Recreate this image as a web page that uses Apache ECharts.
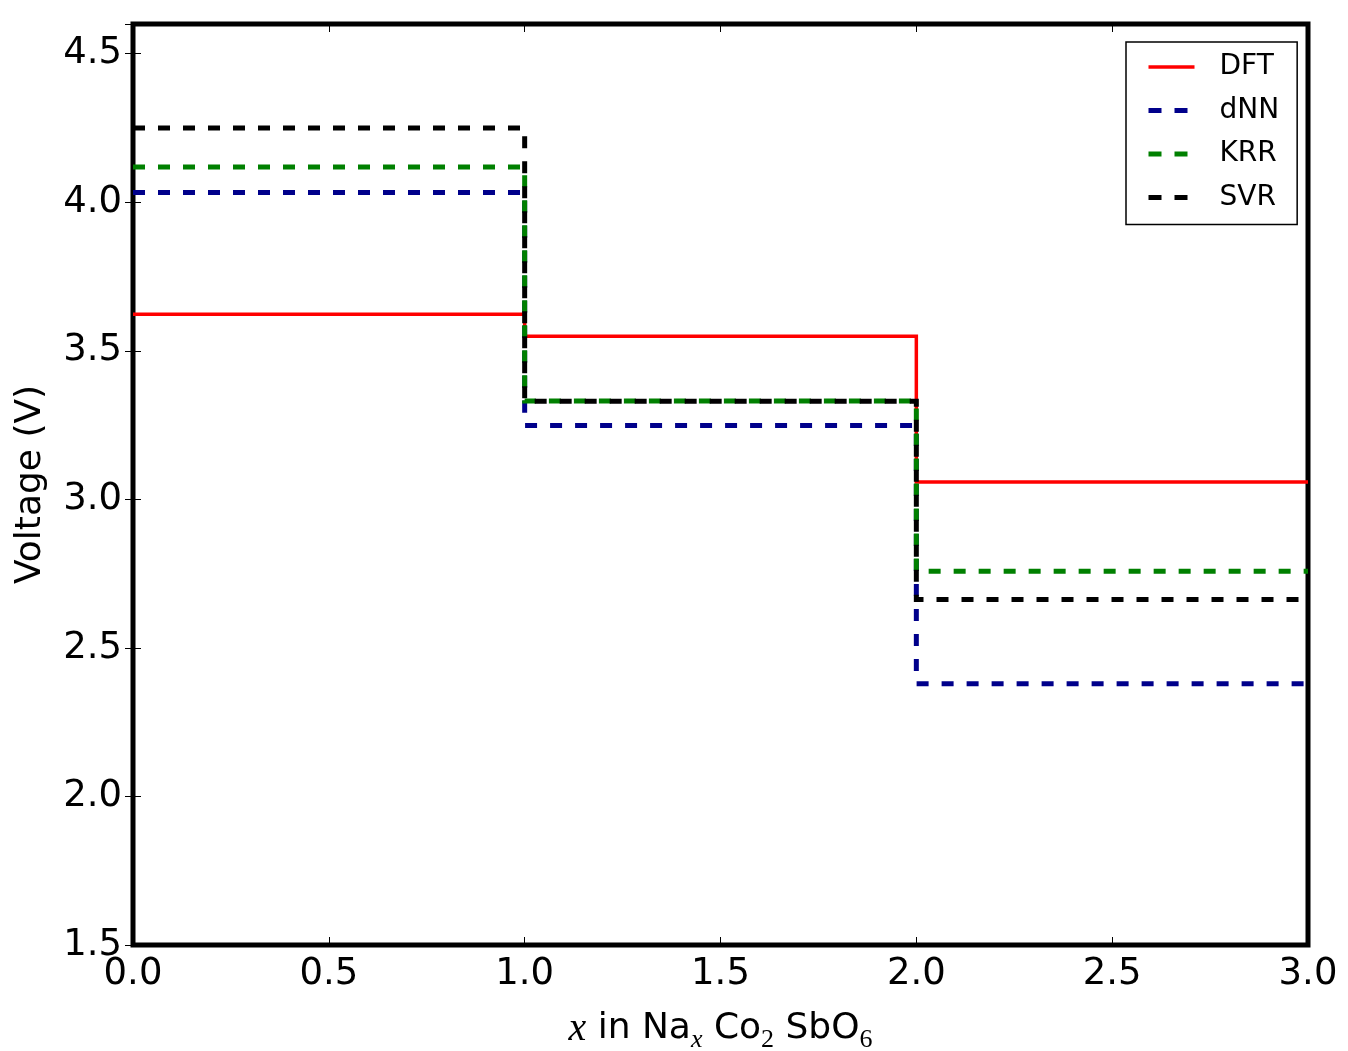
<!DOCTYPE html>
<html>
<head>
<meta charset="utf-8">
<script src="https://cdn.jsdelivr.net/npm/echarts@6/dist/echarts.min.js"></script>
<style>
html,body{margin:0;padding:0;background:#fff;}
#chart{width:1348px;height:1051px;}
</style>
</head>
<body>
<div id="chart"></div>
<script>
// Step edges along x (Na content) and the voltage of each step
const xEdges = [0, 1, 2, 3];
const seriesNames = ['DFT', 'dNN', 'KRR', 'SVR'];
const dftVoltage = [3.623, 3.549, 3.058];
const dnnVoltage = [4.033, 3.249, 2.379];
const krrVoltage = [4.119, 3.331, 2.758];
const svrVoltage = [4.250, 3.330, 2.663];
const xTicks = [0.0, 0.5, 1.0, 1.5, 2.0, 2.5, 3.0];
const yTicks = [1.5, 2.0, 2.5, 3.0, 3.5, 4.0, 4.5];

function stepData(v) {
  const d = [];
  for (let i = 0; i < v.length; i++) d.push([xEdges[i], v[i]]);
  d.push([xEdges[xEdges.length - 1], v[v.length - 1]]);
  return d;
}

const FONT = 'DejaVu Sans';
const chart = echarts.init(document.getElementById('chart'), null, {renderer: 'canvas'});

const seriesColors = ['#ff0000', '#00008b', '#008000', '#000000'];
const seriesWidths = [3.5, 5, 5, 5];
const seriesDashed = [false, true, true, true];

const mkSeries = (name, vals, i) => ({
  name: name,
  type: 'line',
  step: 'end',
  data: stepData(vals),
  symbol: 'none',
  legendIcon: 'none',
  silent: true,
  animation: false,
  lineStyle: {color: seriesColors[i], width: seriesWidths[i], type: seriesDashed[i] ? [12, 13] : 'solid', cap: 'butt', join: 'miter'},
  itemStyle: {color: seriesColors[i]}
});

const hiddenLabel = {show: false};
const tickStyle = {show: true, inside: true, length: 8, lineStyle: {color: '#000', width: 1}};

chart.setOption({
  backgroundColor: '#fff',
  animation: false,
  grid: {left: 133, right: 40, top: 24, bottom: 106, outerBoundsMode: 'none', containLabel: false,
         show: true, borderColor: '#000', borderWidth: 5, backgroundColor: 'transparent'},
  legend: {
    orient: 'vertical',
    left: 1126, top: 42,
    padding: [10, 18, 12, 20],
    itemGap: 13.5,
    itemWidth: 46, itemHeight: 14,
    itemTextGap: 28,
    itemStyle: {opacity: 0, borderWidth: 0},
    borderColor: '#000', borderWidth: 1.5, borderRadius: 0,
    backgroundColor: '#fff',
    textStyle: {fontFamily: FONT, fontSize: 28, color: '#000', lineHeight: 30, padding: [0, 0, 0, 20]},
    data: seriesNames.map((n, i) => ({
      name: n,
      lineStyle: {width: seriesWidths[i], color: seriesColors[i], type: seriesDashed[i] ? [13, 13] : 'solid', cap: 'butt'}
    }))
  },
  xAxis: [{
    type: 'value', min: xTicks[0], max: xTicks[xTicks.length - 1], interval: 0.5,
    position: 'bottom',
    axisLine: {show: false},
    axisTick: tickStyle,
    splitLine: {show: false},
    axisLabel: {fontFamily: FONT, fontSize: 37, color: '#000', margin: 11, formatter: v => v.toFixed(1)},
    nameLocation: 'middle', nameGap: 64,
    name: '{i|x}{n| in Na}{s|x}{n| Co}{d|2}{n| SbO}{d|6}',
    nameTextStyle: {
      rich: {
        i: {fontFamily: 'Liberation Serif', fontStyle: 'italic', fontSize: 40, color: '#000', lineHeight: 40, verticalAlign: 'middle'},
        n: {fontFamily: FONT, fontSize: 36, color: '#000', lineHeight: 40, verticalAlign: 'middle'},
        s: {fontFamily: 'Liberation Serif', fontStyle: 'italic', fontSize: 26, color: '#000', lineHeight: 26, padding: [22, 0, 0, 0], verticalAlign: 'middle'},
        d: {fontFamily: 'Liberation Serif', fontSize: 26, color: '#000', lineHeight: 26, padding: [22, 0, 0, 0], verticalAlign: 'middle'}
      }
    }
  }, {
    type: 'value', min: xTicks[0], max: xTicks[xTicks.length - 1], interval: 0.5,
    position: 'top',
    axisLine: {show: false}, axisTick: tickStyle, axisLabel: hiddenLabel, splitLine: {show: false}
  }],
  yAxis: [{
    type: 'value', min: yTicks[0], max: 4.6, interval: 0.5,
    position: 'left',
    axisLine: {show: false},
    axisTick: tickStyle,
    splitLine: {show: false},
    axisLabel: {fontFamily: FONT, fontSize: 37, color: '#000', margin: 11, showMaxLabel: false, formatter: v => v.toFixed(1)},
    name: 'Voltage (V)',
    nameLocation: 'middle', nameGap: 84, nameRotate: 90,
    nameTextStyle: {fontFamily: FONT, fontSize: 36, color: '#000'}
  }, {
    type: 'value', min: yTicks[0], max: 4.6, interval: 0.5,
    position: 'right',
    axisLine: {show: false}, axisTick: tickStyle, axisLabel: hiddenLabel, splitLine: {show: false}
  }],
  series: seriesNames.map((n, i) => mkSeries(n, [dftVoltage, dnnVoltage, krrVoltage, svrVoltage][i], i))
});
</script>
</body>
</html>
